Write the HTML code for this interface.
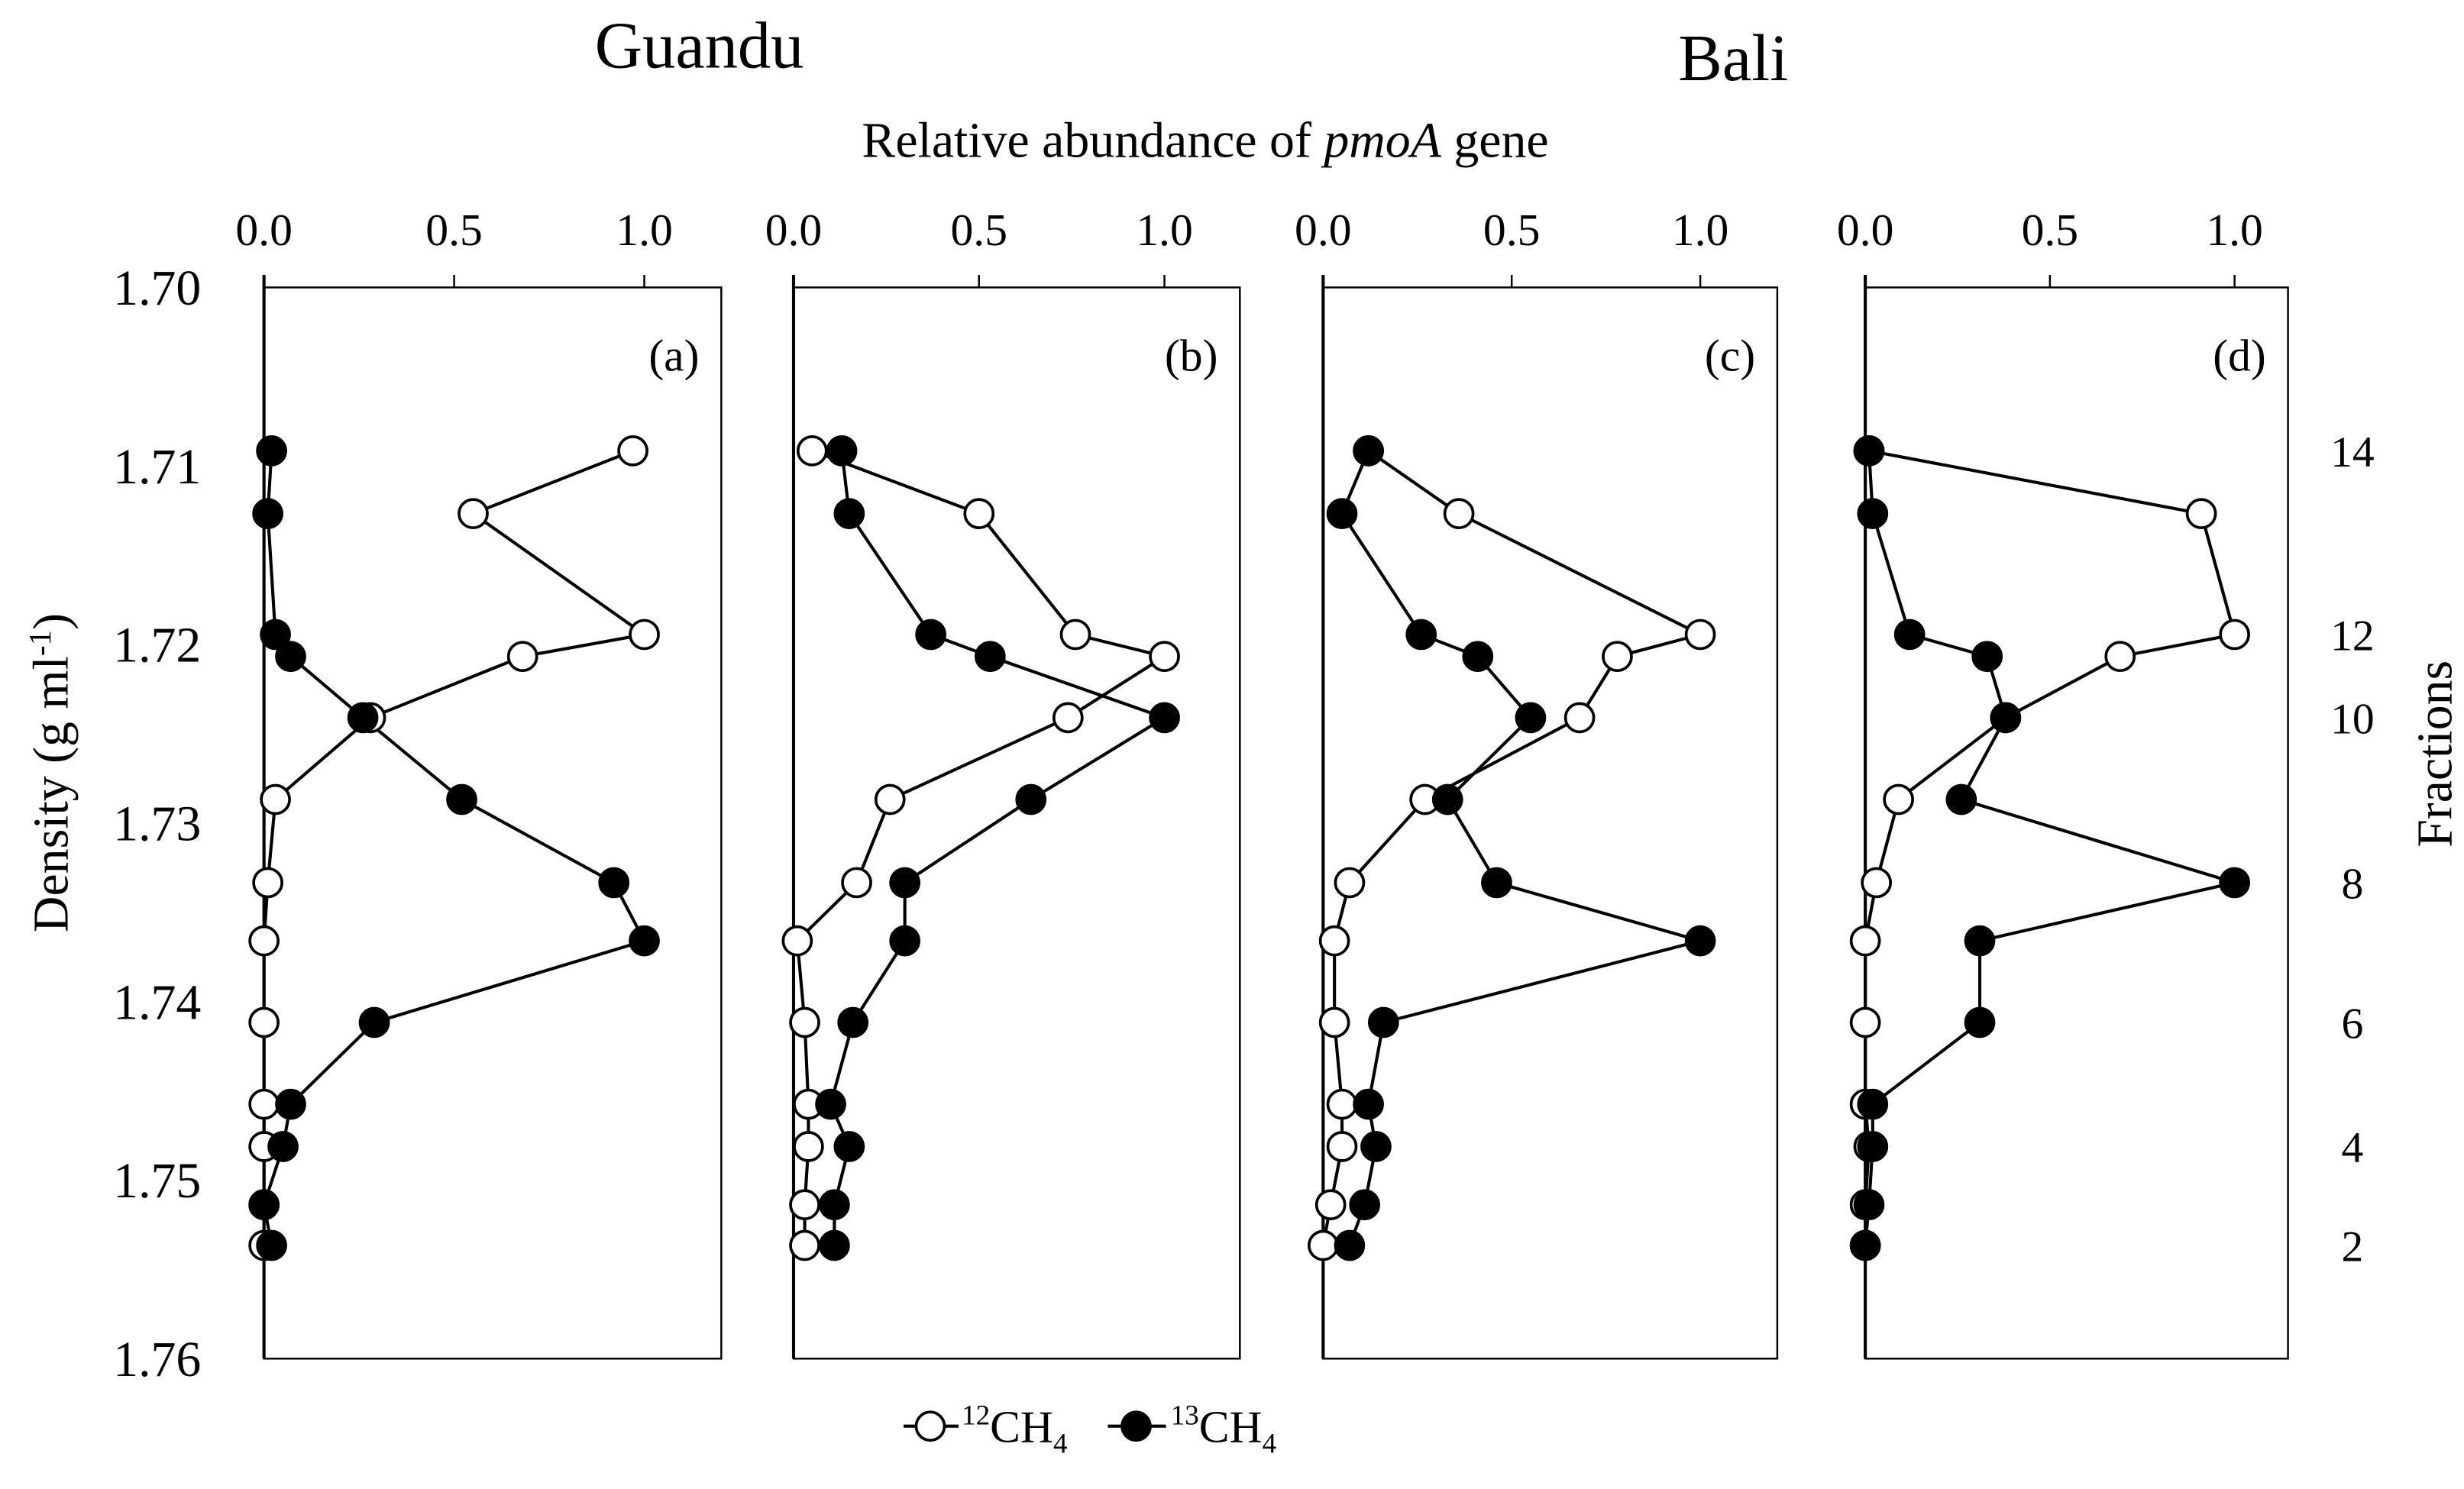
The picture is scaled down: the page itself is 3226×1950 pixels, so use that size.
<!DOCTYPE html>
<html><head><meta charset="utf-8"><style>html,body{margin:0;padding:0;background:#fff}svg{display:block}text{font-family:"Liberation Serif",serif;fill:#000}</style></head>
<body>
<svg width="3226" height="1950" viewBox="0 0 1568 948" preserveAspectRatio="none" xmlns="http://www.w3.org/2000/svg">
<g id="root"></g>
</svg>
<script>
const densities=[1.70915,1.71267,1.71944,1.72067,1.72410,1.72868,1.73334,1.73660,1.74117,1.74575,1.74812,1.75138,1.75366];
const fractions=[14,13,12,11,10,9,8,7,6,5,4,3,2];
const densityTicks=[1.70,1.71,1.72,1.73,1.74,1.75,1.76];
const xTicks=[0.0,0.5,1.0];
const fractionTicks=[14,12,10,8,6,4,2];
const a12=[0.97,0.55,1.0,0.68,0.28,0.03,0.01,0,0,0,0,0,0];
const a13=[0.02,0.01,0.03,0.07,0.26,0.52,0.92,1.0,0.29,0.07,0.05,0.0,0.02];
const b12=[0.05,0.50,0.76,1.0,0.74,0.26,0.17,0.01,0.03,0.04,0.04,0.03,0.03];
const b13=[0.13,0.15,0.37,0.53,1.0,0.64,0.30,0.30,0.16,0.10,0.15,0.11,0.11];
const c12=[0.12,0.36,1.0,0.78,0.68,0.27,0.07,0.03,0.03,0.05,0.05,0.02,0.0];
const c13=[0.12,0.05,0.26,0.41,0.55,0.33,0.46,1.0,0.16,0.12,0.14,0.11,0.07];
const d12=[0.01,0.91,1.0,0.69,0.38,0.09,0.03,0,0,0,0.01,0,0];
const d13=[0.01,0.02,0.12,0.33,0.38,0.26,1.0,0.31,0.31,0.02,0.02,0.01,0];
const NS="http://www.w3.org/2000/svg";
const root=document.getElementById('root');
function mk(tag,attrs,parent){const e=document.createElementNS(NS,tag);for(const k in attrs)e.setAttribute(k,attrs[k]);(parent||root).appendChild(e);return e;}
function txt(s,x,y,size,anchor,parent){const t=mk('text',{x:x,y:y,'font-size':size,'text-anchor':anchor||'middle'},parent);t.textContent=s;return t;}
const yTop=183,yBot=865;
function yS(d){return yTop+(d-1.70)/0.06*(yBot-yTop);}
const panels=[
 {id:'a',x0:168,x1:459,unit:242,o:a12,f:a13},
 {id:'b',x0:505,x1:789,unit:236,o:b12,f:b13},
 {id:'c',x0:842,x1:1131,unit:240,o:c12,f:c13},
 {id:'d',x0:1187,x1:1456,unit:235,o:d12,f:d13}];
panels.forEach(p=>{
 const g=mk('g',{});
 
 
 const xS=v=>p.x0+v*p.unit;
 const fr=mk('rect',{x:p.x0,y:yTop,width:p.x1-p.x0,height:yBot-yTop,fill:'none',stroke:'#000','stroke-width':1.2},g);
 
 
 mk('line',{x1:p.x0,y1:yTop-8,x2:p.x0,y2:yBot,stroke:'#000','stroke-width':2},g);
 xTicks.forEach(t=>{
  mk('line',{x1:xS(t),y1:yTop-8,x2:xS(t),y2:yTop,stroke:'#000','stroke-width':1.2},g);
  const l=txt(t.toFixed(1),xS(t),156,29,'middle',g);
  
  
 });
 const pl=txt('('+p.id+')',p.x1-14,236,29,'end',g);
 
 
 [[p.o,'#fff','series-12ch4'],[p.f,'#000','series-13ch4']].forEach(([vals,fill,name])=>{
  const pts=vals.map((v,i)=>xS(v)+','+yS(densities[i])).join(' ');
  const ln=mk('polyline',{points:pts,fill:'none',stroke:'#000','stroke-width':2},g);
  
  
 });
 [[p.o,'#fff','point-12ch4'],[p.f,'#000','point-13ch4']].forEach(([vals,fill,name])=>{
  vals.forEach((v,i)=>{
   const c=mk('circle',{cx:xS(v),cy:yS(densities[i]),r:9,fill:fill,stroke:'#000','stroke-width':1.8},g);
   
   
  });
 });
});
densityTicks.forEach(t=>{
 const l=txt(t.toFixed(2),128,yS(t)+11,32,'end');
 
 
});
fractionTicks.forEach(f=>{
 const i=fractions.indexOf(f);
 const l=txt(String(f),1497,yS(densities[i])+10,28,'middle');
 
 
});
</script>
<svg style="position:absolute;left:0;top:0" width="3226" height="1950" viewBox="0 0 1568 948" preserveAspectRatio="none">
<text x="445" y="43" font-size="42" text-anchor="middle">Guandu</text>
<text x="1103" y="51" font-size="42" text-anchor="middle">Bali</text>
<text x="767" y="100" font-size="32" text-anchor="middle">Relative abundance of <tspan font-style="italic">pmoA</tspan> gene</text>
<text transform="translate(43,492) rotate(-90)" font-size="32" text-anchor="middle">Density (g ml<tspan font-size="20" dy="-11">-1</tspan><tspan dy="11">)</tspan></text>
<text transform="translate(1560,480) rotate(-90)" font-size="32" text-anchor="middle">Fractions</text>
<g>
<line x1="575" y1="908" x2="610" y2="908" stroke="#000" stroke-width="2"/>
<circle cx="592" cy="908" r="9" fill="#fff" stroke="#000" stroke-width="1.8"/>
<text x="612" y="918" font-size="29"><tspan font-size="18" dy="-11">12</tspan><tspan dy="11">CH</tspan><tspan font-size="18" dy="7">4</tspan></text>
<line x1="705" y1="908" x2="742" y2="908" stroke="#000" stroke-width="2"/>
<circle cx="723" cy="908" r="9" fill="#000" stroke="#000" stroke-width="1.8"/>
<text x="745" y="918" font-size="29"><tspan font-size="18" dy="-11">13</tspan><tspan dy="11">CH</tspan><tspan font-size="18" dy="7">4</tspan></text>
</g>
</svg>
</body></html>
